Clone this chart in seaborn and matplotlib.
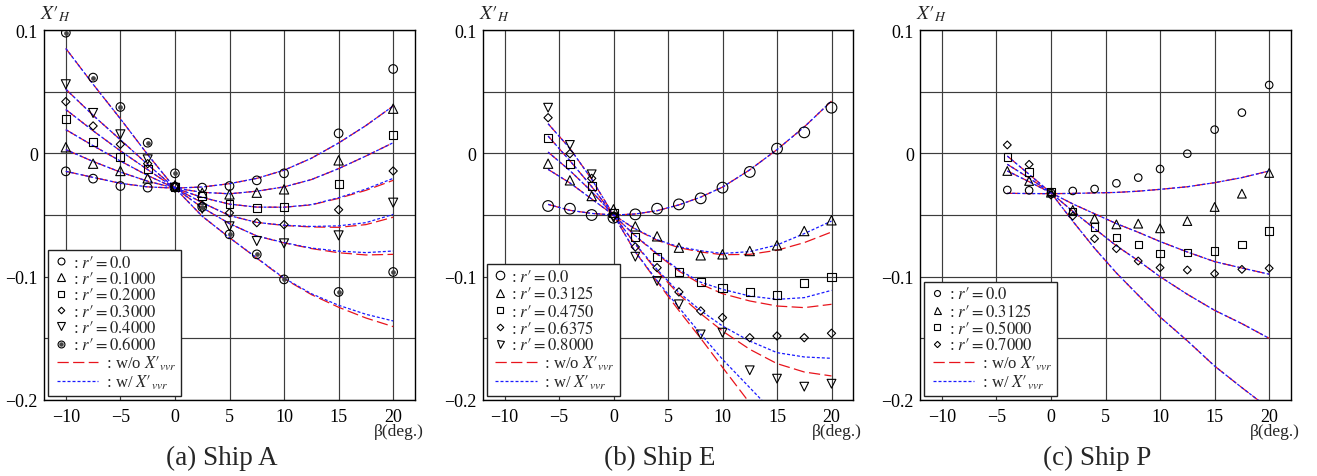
import numpy as np
import matplotlib
matplotlib.use("Agg")
import matplotlib.pyplot as plt
import seaborn as sns
from matplotlib.lines import Line2D
from matplotlib.legend_handler import HandlerLine2D, HandlerTuple

# ---------------- data ----------------
# Ship A
A_mx = [-10, -7.5, -5, -2.5, 0, 2.5, 5, 7.5, 10, 15, 20]
A_m_r00 = [-0.0146, -0.0205, -0.0265, -0.0278, -0.0270, -0.0278, -0.0265, -0.0219, -0.0162, 0.0162, 0.0684]
A_m_r01 = [0.0049, -0.0084, -0.0143, -0.0203, -0.0260, -0.0320, -0.0333, -0.0319, -0.0292, -0.0057, 0.0362]
A_m_r02 = [0.0281, 0.0095, -0.0030, -0.0127, -0.0270, -0.0343, -0.0410, -0.0441, -0.0432, -0.0251, 0.0146]
A_m_r03 = [0.0419, 0.0222, 0.0073, -0.0084, -0.0270, -0.0420, -0.0483, -0.0562, -0.0578, -0.0457, -0.0143]
A_m_r04 = [0.0560, 0.0327, 0.0154, -0.0049, -0.0280, -0.0449, -0.0592, -0.0711, -0.0730, -0.0665, -0.0400]
A_m_r06 = [0.0978, 0.0614, 0.0376, 0.0086, -0.0162, -0.0435, -0.0657, -0.0819, -0.1022, -0.1124, -0.0962]
A_cx = [-10, -7.5, -5, -2.5, 0, 2.5, 5, 7.5, 10, 12.5, 15, 17.5, 20]
A_red = [
    [-0.0146, -0.0195, -0.0243, -0.0272, -0.0282, -0.0273, -0.0246, -0.0203, -0.0137, -0.0040, 0.0084, 0.0225, 0.0384],
    [0.0030, -0.0066, -0.0152, -0.0226, -0.0282, -0.0316, -0.0328, -0.0307, -0.0272, -0.0213, -0.0124, -0.0022, 0.0086],
    [0.0192, 0.0062, -0.0062, -0.0180, -0.0282, -0.0358, -0.0412, -0.0436, -0.0437, -0.0418, -0.0365, -0.0300, -0.0219],
    [0.0355, 0.0183, 0.0020, -0.0132, -0.0282, -0.0400, -0.0505, -0.0560, -0.0585, -0.0597, -0.0600, -0.0578, -0.0518],
    [0.0520, 0.0308, 0.0110, -0.0090, -0.0282, -0.0440, -0.0570, -0.0670, -0.0726, -0.0772, -0.0806, -0.0824, -0.0819],
    [0.0850, 0.0560, 0.0280, -0.0010, -0.0282, -0.0510, -0.0684, -0.0850, -0.1016, -0.1145, -0.1248, -0.1335, -0.1405],
]
A_blue = [
    [-0.0146, -0.0195, -0.0243, -0.0272, -0.0282, -0.0273, -0.0246, -0.0203, -0.0137, -0.0040, 0.0084, 0.0225, 0.0384],
    [0.0030, -0.0066, -0.0152, -0.0226, -0.0282, -0.0316, -0.0328, -0.0307, -0.0272, -0.0213, -0.0124, -0.0022, 0.0086],
    [0.0192, 0.0062, -0.0062, -0.0180, -0.0282, -0.0358, -0.0412, -0.0436, -0.0437, -0.0416, -0.0360, -0.0290, -0.0203],
    [0.0355, 0.0183, 0.0020, -0.0132, -0.0282, -0.0400, -0.0505, -0.0560, -0.0583, -0.0593, -0.0588, -0.0562, -0.0495],
    [0.0520, 0.0308, 0.0110, -0.0090, -0.0282, -0.0440, -0.0570, -0.0670, -0.0724, -0.0768, -0.0793, -0.0805, -0.0792],
    [0.0850, 0.0560, 0.0280, -0.0010, -0.0282, -0.0510, -0.0684, -0.0848, -0.1012, -0.1138, -0.1232, -0.1305, -0.1359],
]
A_labels = ["0.0", "0.1000", "0.2000", "0.3000", "0.4000", "0.6000"]

# Ship E
E_mx = [-6, -4, -2, 0, 2, 4, 6, 8, 10, 12.5, 15, 17.5, 20]
E_m_r0000 = [-0.0427, -0.0449, -0.0500, -0.0522, -0.0495, -0.0449, -0.0414, -0.0365, -0.0278, -0.0151, 0.0038, 0.0170, 0.0370]
E_m_r3125 = [-0.0084, -0.0219, -0.0346, -0.0454, -0.0592, -0.0673, -0.0765, -0.0827, -0.0819, -0.0792, -0.0746, -0.0630, -0.0543]
E_m_r4750 = [0.0127, -0.0084, -0.0265, -0.0481, -0.0676, -0.0841, -0.0959, -0.1043, -0.1095, -0.1124, -0.1149, -0.1051, -0.1003]
E_m_r6375 = [0.0289, -0.0003, -0.0203, -0.0508, -0.0759, -0.0927, -0.1124, -0.1278, -0.1332, -0.1495, -0.1481, -0.1495, -0.1459]
E_m_r8000 = [0.0370, 0.0068, -0.0170, -0.0520, -0.0838, -0.1035, -0.1224, -0.1468, -0.1454, -0.1759, -0.1827, -0.1892, -0.1868]
E_cx = [-6, -4, -2, 0, 2, 4, 6, 8, 10, 12.5, 15, 17.5, 20]
E_red = [
    [-0.0414, -0.0462, -0.0487, -0.0500, -0.0492, -0.0465, -0.0418, -0.0355, -0.0274, -0.0134, 0.0030, 0.0214, 0.0424],
    [-0.0130, -0.0240, -0.0370, -0.0500, -0.0615, -0.0705, -0.0765, -0.0800, -0.0822, -0.0819, -0.0786, -0.0724, -0.0638],
    [0.0010, -0.0140, -0.0310, -0.0500, -0.0670, -0.0819, -0.0955, -0.1060, -0.1138, -0.1197, -0.1238, -0.1251, -0.1224],
    [0.0140, -0.0060, -0.0270, -0.0500, -0.0738, -0.0954, -0.1143, -0.1300, -0.1441, -0.1589, -0.1705, -0.1773, -0.1805],
    [0.0240, 0.0040, -0.0210, -0.0500, -0.0800, -0.1040, -0.1275, -0.1500, -0.1735, -0.2025, -0.2300, -0.2550, -0.2800],
]
E_blue = [
    [-0.0414, -0.0462, -0.0487, -0.0500, -0.0492, -0.0465, -0.0418, -0.0355, -0.0274, -0.0134, 0.0030, 0.0214, 0.0424],
    [-0.0130, -0.0240, -0.0370, -0.0500, -0.0612, -0.0700, -0.0758, -0.0790, -0.0812, -0.0797, -0.0743, -0.0651, -0.0549],
    [0.0010, -0.0140, -0.0310, -0.0500, -0.0668, -0.0812, -0.0945, -0.1045, -0.1103, -0.1157, -0.1184, -0.1170, -0.1111],
    [0.0140, -0.0060, -0.0270, -0.0500, -0.0735, -0.0942, -0.1128, -0.1275, -0.1400, -0.1522, -0.1616, -0.1651, -0.1662],
    [0.0240, 0.0040, -0.0210, -0.0500, -0.0798, -0.1032, -0.1250, -0.1465, -0.1670, -0.1900, -0.2130, -0.2350, -0.2550],
]
E_labels = ["0.0", "0.3125", "0.4750", "0.6375", "0.8000"]

# Ship P
P_mx = [-4, -2, 0, 2, 4, 6, 8, 10, 12.5, 15, 17.5, 20]
P_m_r0000 = [-0.0297, -0.0300, -0.0319, -0.0305, -0.0289, -0.0243, -0.0197, -0.0127, -0.0003, 0.0192, 0.0330, 0.0554]
P_m_r3125 = [-0.0143, -0.0224, -0.0319, -0.0459, -0.0530, -0.0576, -0.0570, -0.0608, -0.0549, -0.0435, -0.0327, -0.0159]
P_m_r5000 = [-0.0030, -0.0151, -0.0311, -0.0473, -0.0597, -0.0684, -0.0741, -0.0811, -0.0805, -0.0792, -0.0738, -0.0630]
P_m_r7000 = [0.0068, -0.0089, -0.0338, -0.0508, -0.0692, -0.0773, -0.0873, -0.0927, -0.0946, -0.0976, -0.0941, -0.0932]
P_cx = [-4, -2, 0, 2, 4, 6, 8, 10, 12.5, 15, 17.5, 20]
P_red = [
    [-0.0324, -0.0326, -0.0327, -0.0325, -0.0321, -0.0317, -0.0307, -0.0292, -0.0271, -0.0238, -0.0197, -0.0143],
    [-0.0143, -0.0230, -0.0320, -0.0410, -0.0490, -0.0570, -0.0640, -0.0715, -0.0800, -0.0878, -0.0930, -0.0980],
    [-0.0089, -0.0200, -0.0320, -0.0470, -0.0610, -0.0750, -0.0870, -0.1000, -0.1143, -0.1273, -0.1381, -0.1500],
    [-0.0022, -0.0170, -0.0320, -0.0550, -0.0770, -0.0970, -0.1150, -0.1327, -0.1520, -0.1725, -0.1900, -0.2070],
]
P_blue = [list(v) for v in P_red]
P_labels = ["0.0", "0.3125", "0.5000", "0.7000"]

RED = "#e8141c"
BLUE = "#1a1aff"

# ---------------- style ----------------
sns.set_theme(style="white")
plt.rcParams["font.family"] = ["Liberation Serif", "DejaVu Serif"]
plt.rcParams["mathtext.fontset"] = "stix"
plt.rcParams["axes.unicode_minus"] = True


class HandlerLongLine(HandlerLine2D):
    def __init__(self, start, length, **kw):
        super().__init__(**kw)
        self.start = start
        self.length = length

    def create_artists(self, legend, orig_handle, xdescent, ydescent,
                       width, height, fontsize, trans):
        y = (height - ydescent) / 2.0
        x0 = -xdescent + self.start
        line = Line2D([x0, x0 + self.length], [y, y])
        self.update_prop(line, orig_handle, legend)
        line.set_transform(trans)
        return [line]


MARKS = ["o", "^", "s", "D", "v", "o"]
LEG_FS = 12.0
PRIME = "\u2032"


def draw_panel(ax, mx, mseries, cx, reds, blues, labels, sizes, title, double_last=False):
    # curves
    for yv in reds:
        sns.lineplot(x=cx, y=yv, ax=ax, color=RED, linewidth=0.9, estimator=None,
                     sort=False, linestyle=(0, (9, 3.5)), zorder=3)
    for yv in blues:
        sns.lineplot(x=cx, y=yv, ax=ax, color=BLUE, linewidth=0.9, estimator=None,
                     sort=False, linestyle=(0, (2.4, 1.6)), zorder=4)
    # markers
    handles = []
    for i, yv in enumerate(mseries):
        m = MARKS[i]
        ms = sizes[i]
        sns.scatterplot(x=mx, y=yv, ax=ax, marker=m, s=ms ** 2, facecolor="none",
                        edgecolor="black", linewidth=0.8, zorder=5)
        h = Line2D([], [], marker=m, ls="none", mfc="none", mec="black", mew=0.8, ms=ms * 0.8)
        if double_last and i == len(mseries) - 1:
            sns.scatterplot(x=mx, y=yv, ax=ax, marker="o", s=(ms * 0.45) ** 2, facecolor="#444444",
                            edgecolor="#444444", linewidth=0.5, zorder=6)
            h2 = Line2D([], [], marker="o", ls="none", mfc="#444444", mec="#444444", ms=ms * 0.8 * 0.45)
            h = (h, h2)
        handles.append(h)

    ax.set_xlim(-12, 22)
    ax.set_ylim(-0.2, 0.1)
    ax.set_xticks([-10, -5, 0, 5, 10, 15, 20])
    ax.set_xticklabels(["\u221210", "\u22125", "0", "5", "10", "15", "20"])
    ax.set_yticks([-0.2, -0.1, 0.0, 0.1])
    ax.set_yticklabels(["\u22120.2", "\u22120.1", "0", "0.1"])
    ax.set_yticks([-0.15, -0.05, 0.05], minor=True)
    ax.grid(True, which="both", color="#3c3c3c", linewidth=0.85)
    ax.set_axisbelow(True)
    ax.tick_params(which="both", direction="out", length=2.5, width=0.8, pad=2.0,
                   labelsize=13, colors="black")
    ax.tick_params(axis="x", pad=3.5)
    for sp in ax.spines.values():
        sp.set_color("black")
        sp.set_linewidth(1.0)
    ax.set_xlabel("")
    ax.set_ylabel("")

    # legend
    lh_red = Line2D([], [], color=RED, lw=0.9, linestyle=(0, (9, 3.5)))
    lh_blue = Line2D([], [], color=BLUE, lw=0.9, linestyle=(0, (2.4, 1.6)))
    all_handles = handles + [lh_red, lh_blue]
    pad = "\u2002" * 4
    all_labels = [": $r%s = %s$" % (PRIME, lab) for lab in labels] + \
                 [pad + ": w/o $X%s_{vvr}$" % PRIME, pad + ": w/ $X%s_{vvr}$" % PRIME]
    hmap = {lh_red: HandlerLongLine(2.8, 30.0), lh_blue: HandlerLongLine(2.8, 30.0),
            tuple: HandlerTuple(ndivide=1)}
    leg = ax.legend(all_handles, all_labels, handler_map=hmap, loc="lower left",
                    bbox_to_anchor=(0.011, 0.012), borderaxespad=0.0, fontsize=LEG_FS,
                    handlelength=1.0, handletextpad=0.2, labelspacing=0.02,
                    borderpad=0.28, frameon=True, fancybox=False, framealpha=1.0)
    leg.get_frame().set_edgecolor("#222222")
    leg.get_frame().set_linewidth(1.0)
    leg.set_zorder(10)

    ax.text(-0.011, 1.032, "$X%s_{H}$" % PRIME, transform=ax.transAxes, ha="left",
            va="baseline", fontsize=14)
    ax.text(1.024, -0.085, "β(deg.)", transform=ax.transAxes, ha="right",
            va="center", fontsize=12.5)
    ax.text(0.478, -0.155, title, transform=ax.transAxes, ha="center",
            va="center", fontsize=19.5)


fig = plt.figure(figsize=(13.17, 4.77), dpi=100)
bottom = 1 - 401 / 477
height = 370 / 477
axA = fig.add_axes([44 / 1317, bottom, 371 / 1317, height])
axE = fig.add_axes([482.7 / 1317, bottom, 370.6 / 1317, height])
axP = fig.add_axes([920 / 1317, bottom, 371 / 1317, height])

draw_panel(axA, A_mx, [A_m_r00, A_m_r01, A_m_r02, A_m_r03, A_m_r04, A_m_r06],
           A_cx, A_red, A_blue, A_labels, [6.2, 6.7, 5.6, 4.2, 6.5, 6.2],
           "(a) Ship A", double_last=True)
draw_panel(axE, E_mx, [E_m_r0000, E_m_r3125, E_m_r4750, E_m_r6375, E_m_r8000],
           E_cx, E_red, E_blue, E_labels, [7.7, 6.7, 5.8, 4.2, 6.3],
           "(b) Ship E")
draw_panel(axP, P_mx, [P_m_r0000, P_m_r3125, P_m_r5000, P_m_r7000],
           P_cx, P_red, P_blue, P_labels, [5.4, 6.3, 5.3, 4.0],
           "(c) Ship P")

fig.savefig("out.png", dpi=100)
